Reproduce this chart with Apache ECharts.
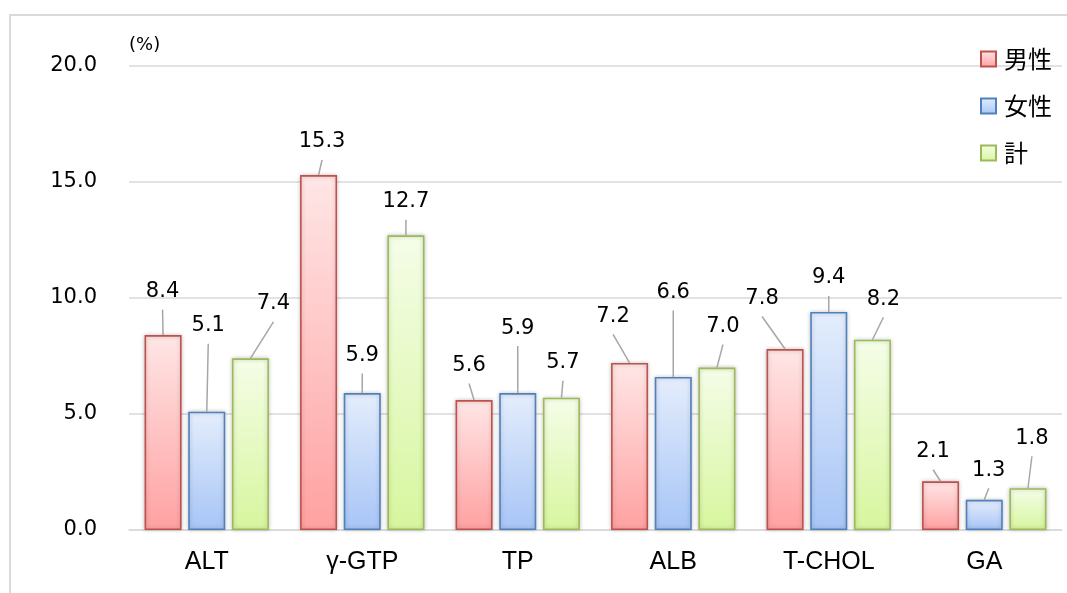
<!DOCTYPE html>
<html>
<head>
<meta charset="utf-8">
<script src="https://cdn.jsdelivr.net/npm/echarts@6/dist/echarts.min.js"></script>
<style>
html,body{margin:0;padding:0;background:#fff;}
#chart{width:1067px;height:593px;}
</style>
</head>
<body>
<div id="chart"></div>
<script>
// ---- data ----
const categories = ['ALT', 'γ-GTP', 'TP', 'ALB', 'T-CHOL', 'GA'];
const seriesNames = ['男性', '女性', '計'];
const maleValues = [8.4, 15.3, 5.6, 7.2, 7.8, 2.1];
const femaleValues = [5.1, 5.9, 5.9, 6.6, 9.4, 1.3];
const totalValues = [7.4, 12.7, 5.7, 7.0, 8.2, 1.8];
const yAxisMin = 0;
const yAxisMax = 20;
const yAxisInterval = 5;
const yAxisUnit = '(%)';

// ---- label placement (offset of label centre from bar-top centre) ----
const maleLabelOffsets = [[-0.5, -43.5], [3.5, -33], [-5, -34.5], [-16.5, -46.5], [-23, -50.5], [-7.5, -29.5]];
const femaleLabelOffsets = [[1.5, -86], [0, -37.5], [0, -65], [0, -84.5], [0, -34], [4.5, -29.5]];
const totalLabelOffsets = [[23, -54.5], [0, -33.5], [1.5, -35], [6, -41], [11, -40.5], [4, -50]];
const labelOffsets = [maleLabelOffsets, femaleLabelOffsets, totalLabelOffsets];
const labelFontSize = 21;
const labelDistance = 5;
const leaderGap = 18;

const styles = [
  { top: '#FFE6E6', bottom: '#FFA1A1', border: '#C0504D' },
  { top: '#E4EDFC', bottom: '#A7C5F6', border: '#4F81BD' },
  { top: '#F5FDE8', bottom: '#D7F69E', border: '#9BBB59' }
];
const valuesList = [maleValues, femaleValues, totalValues];

const chart = echarts.init(document.getElementById('chart'), null, { renderer: 'canvas' });

function makeSeries(idx) {
  const st = styles[idx];
  const base = labelDistance + labelFontSize / 2;
  return {
    name: seriesNames[idx],
    type: 'bar',
    data: valuesList[idx].map((v, i) => ({
      value: v,
      label: { offset: [labelOffsets[idx][i][0], labelOffsets[idx][i][1] + base] }
    })),
    barGap: '18%',
    barCategoryGap: '20%',
    itemStyle: {
      color: new echarts.graphic.LinearGradient(0, 0, 0, 1, [
        { offset: 0, color: st.top },
        { offset: 1, color: st.bottom }
      ]),
      borderColor: st.border,
      borderWidth: 1.6,
      shadowBlur: 4,
      shadowColor: 'rgba(0,0,0,0.22)'
    },
    label: {
      show: true,
      position: 'top',
      distance: labelDistance,
      formatter: p => Number(p.value).toFixed(1),
      fontFamily: 'DejaVu Sans',
      fontSize: labelFontSize,
      lineHeight: labelFontSize,
      color: '#000'
    },
    emphasis: { disabled: true }
  };
}

const option = {
  animation: false,
  backgroundColor: '#fff',
  grid: { left: 129, right: 5, top: 66, bottom: 63, containLabel: false },
  legend: {
    orient: 'vertical',
    left: 975,
    top: 42,
    itemWidth: 15,
    itemHeight: 15,
    itemGap: 23,
    icon: 'rect',
    data: seriesNames,
    textStyle: {
      fontFamily: 'Noto Sans CJK JP',
      fontSize: 24,
      color: '#000',
      padding: [0, 0, 0, 3]
    }
  },
  xAxis: {
    type: 'category',
    data: categories,
    axisTick: { show: false },
    axisLine: { lineStyle: { color: '#D9D9D9', width: 1.5 } },
    axisLabel: {
      fontFamily: 'Liberation Sans',
      fontSize: 25,
      color: '#000',
      margin: 20
    }
  },
  yAxis: {
    type: 'value',
    min: yAxisMin,
    max: yAxisMax,
    interval: yAxisInterval,
    name: yAxisUnit,
    nameLocation: 'end',
    nameGap: 12,
    nameTextStyle: {
      fontFamily: 'DejaVu Sans',
      fontSize: 18,
      color: '#000',
      align: 'left'
    },
    axisLine: { show: false },
    axisTick: { show: false },
    splitLine: { lineStyle: { color: '#D9D9D9', width: 1.5 } },
    axisLabel: {
      formatter: v => v.toFixed(1),
      fontFamily: 'DejaVu Sans',
      fontSize: 21,
      color: '#000',
      margin: 32
    }
  },
  series: [makeSeries(0), makeSeries(1), makeSeries(2)]
};

chart.setOption(option);

// leader lines from bar-top centre to each label, using the bars' computed layout
const graphics = [{
  type: 'rect',
  silent: true,
  z: -10,
  shape: { x: 10, y: 15, width: 1200, height: 800 },
  style: { fill: 'none', stroke: '#D9D9D9', lineWidth: 2 }
}];
const model = chart.getModel();
for (let s = 0; s < 3; s++) {
  const data = model.getSeriesByIndex(s).getData();
  for (let i = 0; i < data.count(); i++) {
    const lay = data.getItemLayout(i);
    if (!lay) continue;
    const cx = lay.x + lay.width / 2;
    const top = Math.min(lay.y, lay.y + lay.height);
    const off = labelOffsets[s][i];
    graphics.push({
      type: 'line',
      silent: true,
      z: 5,
      shape: { x1: cx, y1: top, x2: cx + off[0], y2: top + off[1] + leaderGap },
      style: { stroke: '#A6A6A6', lineWidth: 1.5 }
    });
  }
}
chart.setOption({ graphic: graphics });
</script>
</body>
</html>
